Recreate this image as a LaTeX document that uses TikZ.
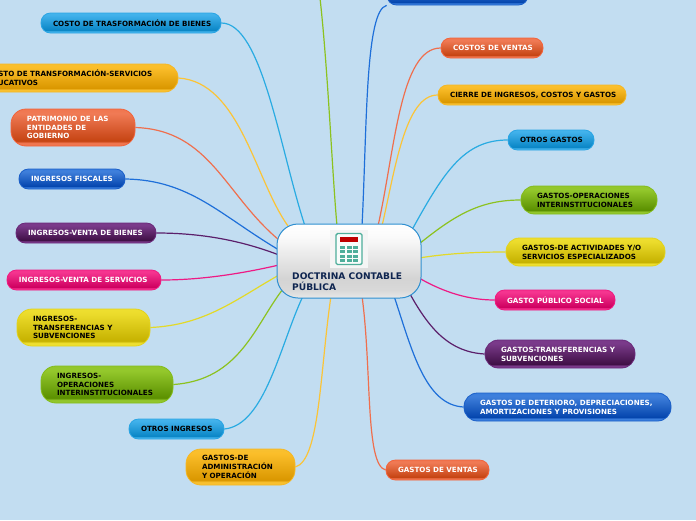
\documentclass[tikz,border=0pt]{standalone}
\usepackage{fontspec}
\setmainfont{DejaVu Sans}
\usetikzlibrary{backgrounds}
\definecolor{bgc}{RGB}{194,221,241}
\newcommand\mkshade[6]{%
  \definecolor{#1edge}{HTML}{#2}\definecolor{#1top}{HTML}{#3}\definecolor{#1bot}{HTML}{#4}\definecolor{#1line}{HTML}{#5}\definecolor{#1wire}{HTML}{#6}%
  \pgfdeclareverticalshading{#1shade}{100bp}{color(0bp)=(#1edge);color(25bp)=(#1edge);color(29bp)=(#1edge);color(32bp)=(#1bot);color(69bp)=(#1top);color(75bp)=(#1edge);color(100bp)=(#1edge)}}
\mkshade{sky}{45B4EC}{3FB0EA}{0A86C6}{2AA5E4}{29ABE2}
\mkshade{amber}{F8C030}{FBBE2A}{DA9700}{F5B725}{FBC437}
\mkshade{coral}{F07650}{F07A55}{C64413}{F2643C}{EF6F4E}
\mkshade{royal}{3A7EDD}{3F7FDB}{0546AE}{1B5FC8}{1E6FD9}
\mkshade{plum}{7A3A8A}{7A3A8A}{401046}{6B2A7B}{5B1F6B}
\mkshade{rose}{F5348F}{F5348F}{CE0060}{F01A80}{EE1A85}
\mkshade{lemon}{EEDF30}{ECDC2C}{C6B200}{E3D31C}{E3D928}
\mkshade{lime}{92C62C}{94C82C}{5B9000}{84BC1C}{8CC21F}
\definecolor{navy}{HTML}{0F2550}
\definecolor{teal1}{HTML}{4FAE9B}
\definecolor{centreline}{HTML}{2E8FD0}
\pgfdeclareverticalshading{centreshade}{100bp}{color(0bp)=(white);color(25bp)=(white!82!gray);color(30bp)=(white!70!gray);color(38bp)=(white!66!gray);color(66bp)=(white!96!gray);color(75bp)=(white);color(100bp)=(white)}
\tikzset{
  x=1pt,y=-1pt,
  pillbox/.style={shape=rectangle,inner ysep=0pt,font=\fontsize{7.15}{8.6}\selectfont\bfseries},
  wire/.style={line width=1.2pt},
  centrebox/.style={shape=rectangle,draw=centreline,line width=1pt,rounded corners=21pt,shading=centreshade,shading angle=0,minimum width=144pt,minimum height=74pt,inner sep=0pt},
}
% name, x1, y1, x2, y2, palette, text colour, pad, text
\newcommand\mmpill[9]{%
  \pgfmathsetmacro\pillw{#4-#2}\pgfmathsetmacro\pillh{#5-#3}%
  \pgfmathsetmacro\pilltw{\pillw-2*#8}\pgfmathsetmacro\pillrad{min(\pillh/2-0.5,15)}%
  \node[pillbox,draw=#6line,line width=0.8pt,shading=#6shade,shading angle=0,rounded corners=\pillrad pt,
        minimum height=\pillh pt,inner xsep=#8pt,text=#7]
     (#1) at ({(#2+#4)/2},{(#3+#5)/2}) {\raisebox{-1pt}[\height][\depth]{\makebox[\pilltw pt][l]{\begin{tabular}{@{}l@{}}#9\end{tabular}}}};}
\begin{document}
\begin{tikzpicture}
\useasboundingbox (0,0) rectangle (696,520);
\clip (0,0) rectangle (696,520);
\begin{pgfonlayer}{background}
\fill[bgc] (0,0) rectangle (696,520);
\end{pgfonlayer}

\mmpill{na}{41}{13}{221}{33}{sky}{black}{12}{COSTO DE TRASFORMACIÓN DE BIENES}
\mmpill{nb}{-29}{64}{178}{92}{amber}{black}{16}{COSTO DE TRANSFORMACIÓN-SERVICIOS\\EDUCATIVOS}
\mmpill{nc}{11}{109}{135}{146}{coral}{white}{16}{PATRIMONIO DE LAS\\ENTIDADES DE\\GOBIERNO}
\mmpill{nd}{19}{169}{125}{189}{royal}{white}{12}{INGRESOS FISCALES}
\mmpill{ne}{16}{223}{156}{243}{plum}{white}{12}{INGRESOS-VENTA DE BIENES}
\mmpill{nf}{7}{270}{161}{290}{rose}{white}{12}{INGRESOS-VENTA DE SERVICIOS}
\mmpill{ng}{17}{309}{150}{346}{lemon}{black}{16}{INGRESOS-\\TRANSFERENCIAS Y\\SUBVENCIONES}
\mmpill{nh}{41}{366}{173}{403}{lime}{black}{16}{INGRESOS-\\OPERACIONES\\INTERINSTITUCIONALES}
\mmpill{ni}{129}{419}{224}{439}{sky}{black}{12}{OTROS INGRESOS}
\mmpill{nj}{186}{449}{295}{485}{amber}{black}{16}{GASTOS-DE\\ADMINISTRACIÓN\\Y OPERACIÓN}
\mmpill{nk}{386}{460}{489}{480}{coral}{white}{12}{GASTOS DE VENTAS}
\mmpill{nl}{464}{393}{671}{421}{royal}{white}{16}{GASTOS DE DETERIORO, DEPRECIACIONES,\\AMORTIZACIONES Y PROVISIONES}
\mmpill{nm}{485}{340}{635}{368}{plum}{white}{16}{GASTOS-TRANSFERENCIAS Y\\SUBVENCIONES}
\mmpill{nn}{495}{290}{615}{310}{rose}{white}{12}{GASTO PÚBLICO SOCIAL}
\mmpill{no}{506}{238}{665}{266}{lemon}{black}{16}{GASTOS-DE ACTIVIDADES Y/O\\SERVICIOS ESPECIALIZADOS}
\mmpill{np}{521}{186}{657}{214}{lime}{black}{16}{GASTOS-OPERACIONES\\INTERINSTITUCIONALES}
\mmpill{nq}{508}{130}{594}{150}{sky}{black}{12}{OTROS GASTOS}
\mmpill{nr}{438}{85}{626}{105}{amber}{black}{12}{CIERRE DE INGRESOS, COSTOS Y GASTOS}
\mmpill{ns}{441}{38}{543}{58}{coral}{white}{12}{COSTOS DE VENTAS}
\mmpill{nt}{387}{-15}{528}{5}{royal}{white}{12}{}

\node[centrebox] (c) at (349,261) {};
\node[anchor=north west,inner sep=0pt,align=left,text=navy,font=\fontsize{9.1}{11}\selectfont\bfseries] (ctext) at (292,273) {DOCTRINA CONTABLE\\PÚBLICA};

% calculator icon
\fill[white!92!gray] (330,230) rectangle (368,268);
\draw[teal1,line width=1.4pt,rounded corners=1.5pt,fill=white!96!teal1] (336,233.5) rectangle (362,264.5);
\fill[red!75!black] (340,236.5) rectangle (358,241.5);
\foreach \cx in {340,346.5,353}{\foreach \cy in {245.5,250,254.5,259}{\fill[teal1] (\cx,\cy) rectangle +(5,3.4);}}

\coordinate (top) at (320,-2);
\coordinate (ea) at (305,226); \coordinate (eb) at (288,226); \coordinate (ec) at (279,240);
\coordinate (ed) at (279,250); \coordinate (ee) at (279,255); \coordinate (ef) at (279,265);
\coordinate (eg) at (279,275); \coordinate (eh) at (283,289); \coordinate (ei) at (303,296);
\coordinate (ej) at (331,296); \coordinate (ek) at (362,296); \coordinate (el) at (394,296);
\coordinate (em) at (410,294); \coordinate (en) at (419,278); \coordinate (eo) at (419,258);
\coordinate (ep) at (419,244); \coordinate (eq) at (413,228); \coordinate (er) at (382,226);
\coordinate (es) at (378,226); \coordinate (et) at (362,226); \coordinate (eu) at (337,226);

\begin{pgfonlayer}{background}
\draw[wire,skywire] (na.east) .. controls (262,23) and (280,150) .. (ea);
\draw[wire,amberwire] (nb.east) .. controls (240,82) and (255,180) .. (eb);
\draw[wire,coralwire] (nc.east) .. controls (210,130) and (225,195) .. (ec);
\draw[wire,royalwire] (nd.east) .. controls (190,180) and (220,215) .. (ed);
\draw[wire,plumwire] (ne.east) .. controls (200,233) and (240,240) .. (ee);
\draw[wire,rosewire] (nf.east) .. controls (200,280) and (240,274) .. (ef);
\draw[wire,lemonwire] (ng.east) .. controls (205,325) and (235,300) .. (eg);
\draw[wire,limewire] (nh.east) .. controls (240,380) and (255,325) .. (eh);
\draw[wire,skywire] (ni.east) .. controls (265,425) and (280,345) .. (ei);
\draw[wire,amberwire] (nj.east) .. controls (320,460) and (320,370) .. (ej);
\draw[wire,coralwire] (nk.west) .. controls (365,465) and (372,370) .. (ek);
\draw[wire,royalwire] (nl.west) .. controls (425,405) and (412,350) .. (el);
\draw[wire,plumwire] (nm.west) .. controls (450,352) and (430,330) .. (em);
\draw[wire,rosewire] (nn.west) .. controls (470,300) and (445,293) .. (en);
\draw[wire,lemonwire] (no.west) .. controls (480,252) and (450,253) .. (eo);
\draw[wire,limewire] (np.west) .. controls (480,200) and (455,215) .. (ep);
\draw[wire,skywire] (nq.west) .. controls (465,140) and (445,170) .. (eq);
\draw[wire,amberwire] (nr.west) .. controls (405,95) and (395,170) .. (er);
\draw[wire,coralwire] (ns.west) .. controls (400,48) and (395,150) .. (es);
\draw[wire,royalwire] (nt.south west) .. controls (365,10) and (367,130) .. (et);
\draw[wire,limewire] (top) .. controls (328,70) and (332,170) .. (eu);
\end{pgfonlayer}
\end{tikzpicture}
\end{document}
